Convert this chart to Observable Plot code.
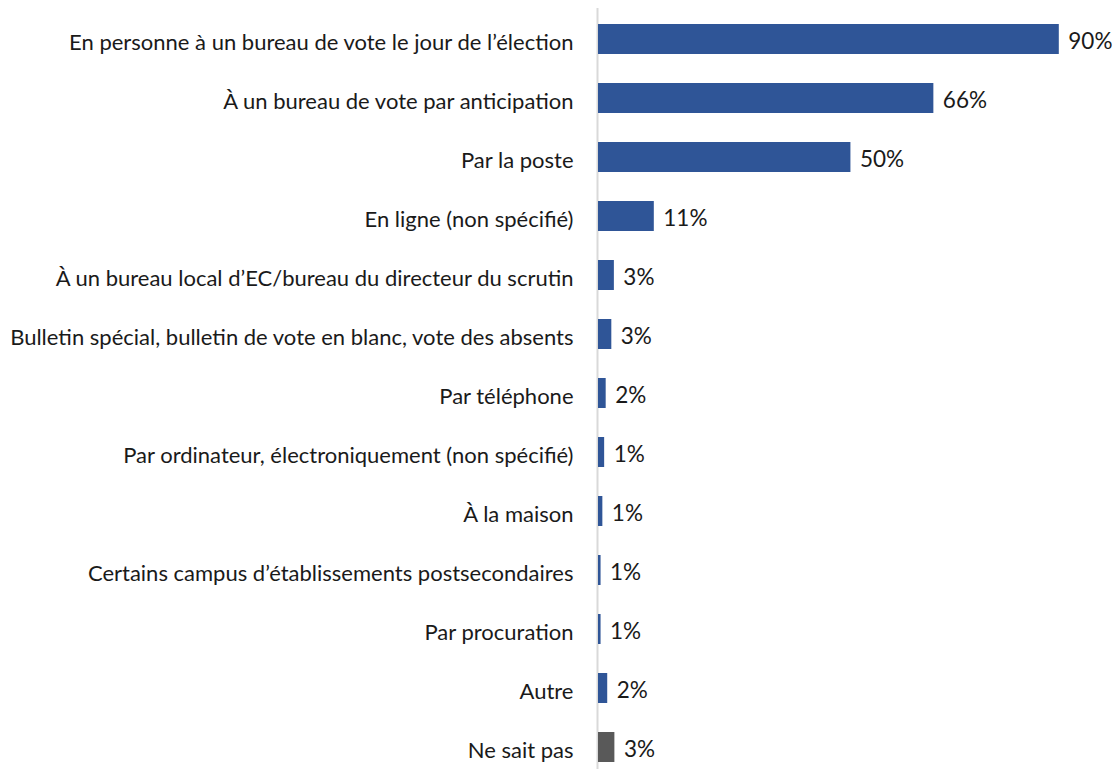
<!DOCTYPE html>
<html>
<head>
<meta charset="utf-8">
<script src="https://cdn.jsdelivr.net/npm/d3@7"></script>
<script src="https://cdn.jsdelivr.net/npm/@observablehq/plot@0.6"></script>
<style>
  html, body { margin: 0; padding: 0; background: #fff; }
  #chart svg { display: block; }
</style>
</head>
<body>
<div id="chart"></div>
<script>
const categories = [
  "En personne à un bureau de vote le jour de l’élection",
  "À un bureau de vote par anticipation",
  "Par la poste",
  "En ligne (non spécifié)",
  "À un bureau local d’EC/bureau du directeur du scrutin",
  "Bulletin spécial, bulletin de vote en blanc, vote des absents",
  "Par téléphone",
  "Par ordinateur, électroniquement (non spécifié)",
  "À la maison",
  "Certains campus d’établissements postsecondaires",
  "Par procuration",
  "Autre",
  "Ne sait pas"
];
const values = [90, 65.5, 49.3, 10.9, 3.1, 2.6, 1.5, 1.2, 0.85, 0.5, 0.5, 1.8, 3.2];
const labels = ["90%", "66%", "50%", "11%", "3%", "3%", "2%", "1%", "1%", "1%", "1%", "2%", "3%"];
const groups = ["main","main","main","main","main","main","main","main","main","main","main","main","dk"];

const data = categories.map((c, i) => ({category: c, value: values[i], label: labels[i], group: groups[i]}));

const chart = Plot.plot({
  width: 1120,
  height: 769,
  marginLeft: 598,
  marginRight: 10,
  marginTop: 16,
  marginBottom: 0,
  style: {fontFamily: "Lato, sans-serif", color: "#1a1a1a", background: "#fff"},
  x: {domain: [0, 100], axis: null},
  y: {domain: categories, paddingInner: 0.495, paddingOuter: 0.065, label: null},
  color: {domain: ["main", "dk"], range: ["#2F5597", "#595959"]},
  marks: [
    Plot.ruleX([0], {stroke: "#d9d9d9", strokeWidth: 2, insetTop: -8, dx: -1}),
    Plot.barX(data, {x: "value", y: "category", fill: "group"}),
    Plot.text(data, {x: "value", y: "category", text: "label", textAnchor: "start", dx: 9, dy: 2, fontSize: 22.5, fill: "#1a1a1a"}),
    Plot.axisY({tickSize: 0, tickPadding: 25, fontSize: 22, dy: 3, label: null})
  ]
});
document.getElementById("chart").appendChild(chart);
</script>
</body>
</html>
